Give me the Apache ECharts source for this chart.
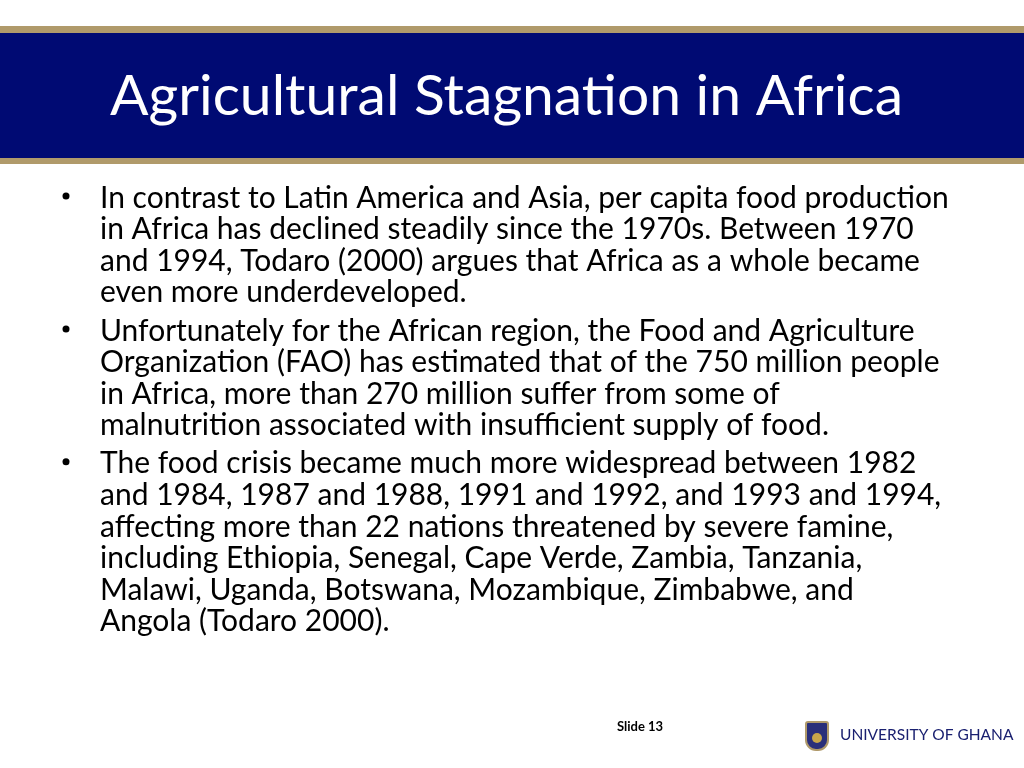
<!DOCTYPE html>
<html>
<head>
<meta charset="utf-8">
<script src="https://cdn.jsdelivr.net/npm/echarts@6/dist/echarts.min.js"></script>
<style>html,body{margin:0;padding:0;background:#fff}#main{width:1024px;height:768px}</style>
</head>
<body>
<div id="main"></div>
<script>
var titleText = 'Agricultural Stagnation in Africa';
var bullets = [
  ['In contrast to Latin America and Asia, per capita food production',
   'in Africa has declined steadily since the 1970s. Between 1970',
   'and 1994, Todaro (2000) argues that Africa as a whole became',
   'even more underdeveloped.'],
  ['Unfortunately for the African region, the Food and Agriculture',
   'Organization (FAO) has estimated that of the 750 million people',
   'in Africa, more than 270 million suffer from some of',
   'malnutrition associated with insufficient supply of food.'],
  ['The food crisis became much more widespread between 1982',
   'and 1984, 1987 and 1988, 1991 and 1992, and 1993 and 1994,',
   'affecting more than 22 nations threatened by severe famine,',
   'including Ethiopia, Senegal, Cape Verde, Zambia, Tanzania,',
   'Malawi, Uganda, Botswana, Mozambique, Zimbabwe, and',
   'Angola (Todaro 2000).']
];
var footerText = 'Slide 13';
var logoText = 'UNIVERSITY OF GHANA';

var font = 'Lato, sans-serif';
var els = [
  {type: 'rect', shape: {x: 0, y: 26, width: 1024, height: 7}, style: {fill: '#b09a6b'}},
  {type: 'rect', shape: {x: 0, y: 33, width: 1024, height: 125}, style: {fill: '#000a73'}},
  {type: 'rect', shape: {x: 0, y: 158, width: 1024, height: 6}, style: {fill: '#b09a6b'}},
  {type: 'text', x: 110, y: 97, style: {text: titleText, fill: '#fff', font: '57px ' + font, textVerticalAlign: 'middle'}}
];
var y = 198;
bullets.forEach(function (lines) {
  els.push({type: 'circle', shape: {cx: 66, cy: y - 2, r: 3.5}, style: {fill: '#000'}});
  lines.forEach(function (l) {
    els.push({type: 'text', x: 100, y: y, style: {text: l, fill: '#000', font: '30px ' + font, textVerticalAlign: 'middle'}});
    y += 31.6;
  });
  y += 6.5;
});
els.push({type: 'text', x: 617, y: 727, style: {text: footerText, fill: '#000', font: 'bold 13px ' + font, textVerticalAlign: 'middle'}});
// crest
els.push({type: 'rect', shape: {x: 806, y: 722, width: 22, height: 28, r: [2, 2, 10, 10]}, style: {fill: '#2a2f7a', stroke: '#b09a6b', lineWidth: 2}});
els.push({type: 'circle', shape: {cx: 817, cy: 738, r: 5}, style: {fill: '#c9a64a'}});
els.push({type: 'text', x: 840, y: 735, style: {text: logoText, fill: '#1a2070', font: '15.5px ' + font, textVerticalAlign: 'middle'}});

var chart = echarts.init(document.getElementById('main'));
chart.setOption({backgroundColor: '#fff', graphic: {elements: els}});
</script>
</body>
</html>
